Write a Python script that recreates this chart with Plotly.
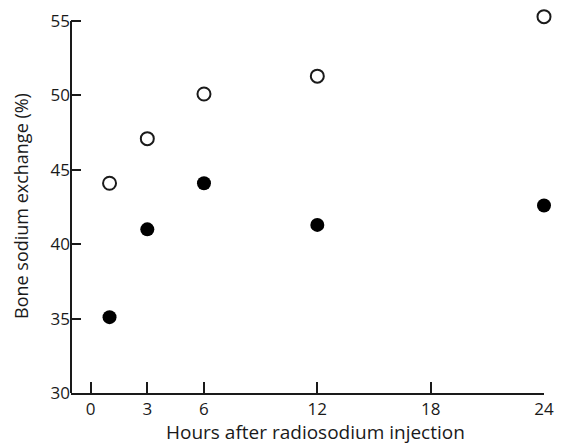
import plotly.graph_objects as go

hours = [1, 3, 6, 12, 24]
open_vals = [44.1, 47.1, 50.1, 51.3, 55.3]
filled_vals = [35.1, 41.0, 44.1, 41.3, 42.6]
x_ticks = [0, 3, 6, 12, 18, 24]
y_ticks = [30, 35, 40, 45, 50, 55]
y_axis_top = 55

FONT = "Open Sans"
INK = "#1a1a1a"

fig = go.Figure()
fig.add_trace(go.Scatter(
    x=hours, y=open_vals, mode="markers", cliponaxis=False,
    marker=dict(symbol="circle-open", size=13, color=INK, line=dict(width=2, color=INK)),
    showlegend=False))
fig.add_trace(go.Scatter(
    x=hours, y=filled_vals, mode="markers", cliponaxis=False,
    marker=dict(symbol="circle", size=14, color="black"),
    showlegend=False))

axis_common = dict(
    ticks="inside", tickwidth=2,
    tickcolor=INK, showgrid=False, zeroline=False,
    tickfont=dict(family=FONT, size=17, color=INK), mirror=False)

fig.update_xaxes(range=[-1.04, 24], tickvals=x_ticks, ticklen=11,
                 showline=True, linecolor=INK, linewidth=2, **axis_common)
fig.update_yaxes(range=[30, 55.68], tickvals=y_ticks, ticklen=10,
                 showline=False, **axis_common)

# y axis line ending at the top tick
fig.add_shape(type="line", xref="paper", yref="y", x0=0, x1=0,
              y0=y_ticks[0], y1=y_axis_top, line=dict(color=INK, width=2))

fig.add_annotation(text="Hours after radiosodium injection", xref="paper", yref="paper",
                   x=(315 - 71) / 473, y=-(432 - 393) / 384, showarrow=False,
                   xanchor="center", yanchor="middle",
                   font=dict(family=FONT, size=19, color=INK))
fig.add_annotation(text="Bone sodium exchange (%)", xref="paper", yref="paper",
                   x=-(71 - 21) / 473, y=(393 - 205) / 384, showarrow=False, textangle=-90,
                   xanchor="center", yanchor="middle",
                   font=dict(family=FONT, size=18, color=INK))

fig.update_layout(
    width=564, height=448, margin=dict(l=71, r=20, t=9, b=55),
    paper_bgcolor="white", plot_bgcolor="white")

fig.write_html("out.html")
